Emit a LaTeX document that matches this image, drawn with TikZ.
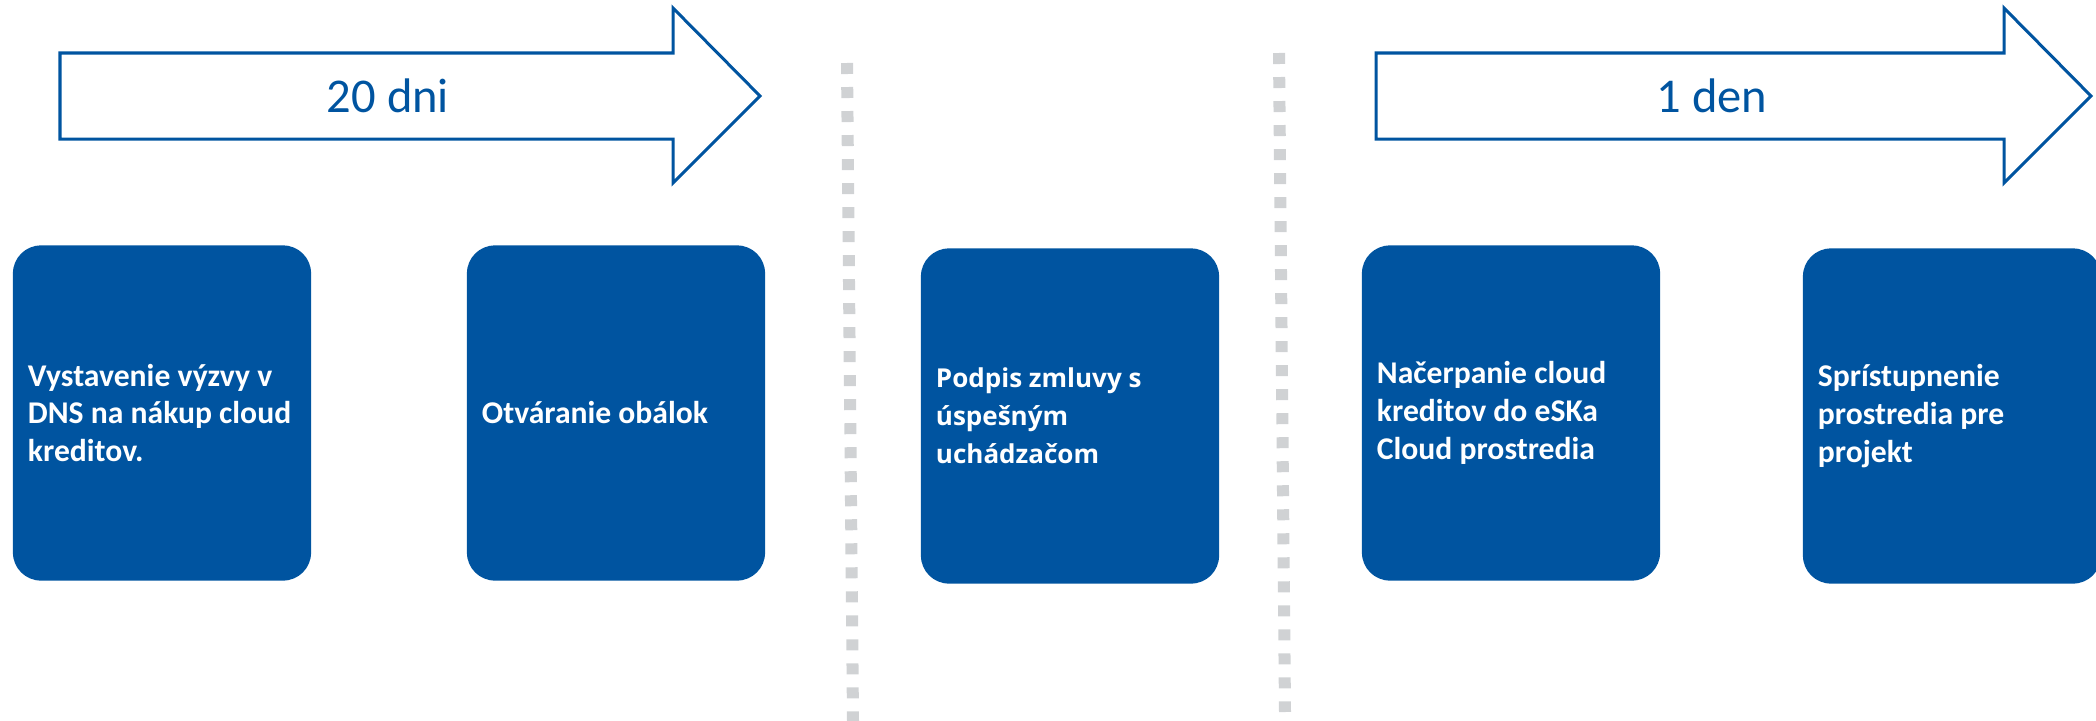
\documentclass[tikz,border=0pt]{standalone}
\usepackage{fontspec}
\setmainfont{Carlito}
\newfontfamily\opensans{Open Sans}
\definecolor{skblue}{RGB}{0,84,160}
\definecolor{dotgray}{RGB}{208,210,212}
\begin{document}
\begin{tikzpicture}[x=0.01cm,y=-0.01cm,
  box/.style={rectangle,rounded corners=0.28cm,fill=skblue,text=white,
    minimum width=2.98cm,minimum height=3.35cm,text width=2.68cm,
    inner xsep=0.15cm,inner ysep=0pt,align=flush left,
    font=\bfseries\fontsize{9}{10.8}\selectfont},
  arrowline/.style={draw=skblue,line width=0.03cm,line join=miter},
  dur/.style={text=skblue,font=\fontsize{13.8}{16}\selectfont},
  sepline/.style={draw=dotgray,line width=0.12cm,dash pattern=on 0.11cm off 0.13cm}]
\useasboundingbox (0,0) rectangle (2096,721);
% separators
\draw[sepline] (847,63)--(853,721);
\draw[sepline] (1279,53)--(1285,712);
% duration arrows
\draw[arrowline] (60,53)--(673,53)--(673,8)--(760,96)--(673,183)--(673,139)--(60,139)--cycle;
\draw[arrowline] (1376,53)--(2004,53)--(2004,8)--(2091,96)--(2004,183)--(2004,139)--(1376,139)--cycle;
\node[dur] (T1) at (388,96) {20 dni};
\node[dur] (T2) at (1712,96) {1 den};
% steps
\node[box] (V) at (162,413) {Vystavenie výzvy v\\DNS na nákup cloud\\kreditov.};
\node[box] (O) at (616,413) {Otváranie obálok};
\node[box,font=\opensans\bfseries\fontsize{7.4}{10.8}\selectfont] (P) at (1070,416) {Podpis zmluvy s\\úspešným\\uchádzačom};
\node[box] (N) at (1511,413) {Načerpanie cloud\\kreditov do eSKa\\Cloud prostredia};
\node[box] (S) at (1952,416) {Sprístupnenie\\prostredia pre\\projekt};
\end{tikzpicture}
\end{document}
